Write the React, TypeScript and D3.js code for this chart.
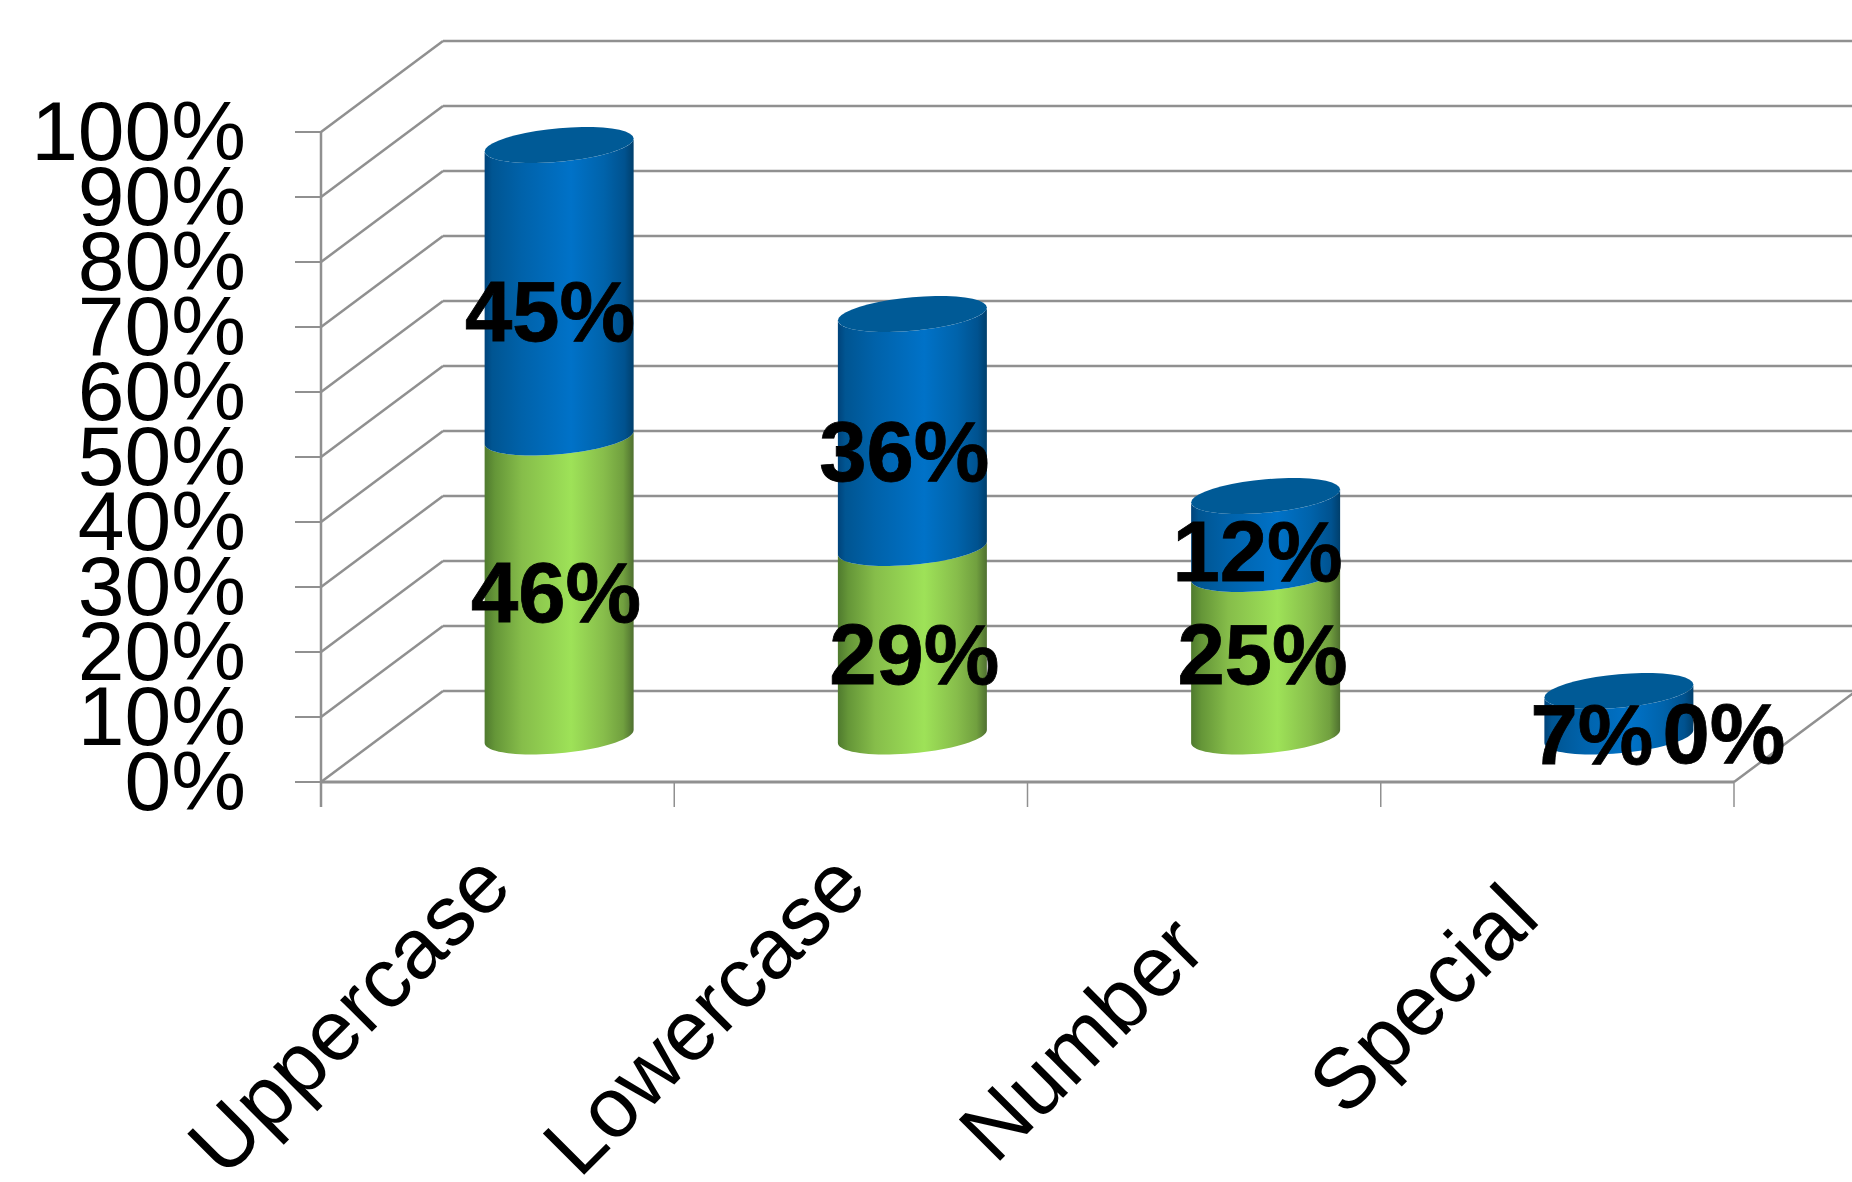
import React from "react";
import * as d3 from "d3";

const categories = ["Uppercase", "Lowercase", "Number", "Special"];
const greenValues = [46, 29, 25, 0];
const blueValues = [45, 36, 12, 7];
const yTicks = [0, 10, 20, 30, 40, 50, 60, 70, 80, 90, 100];

// Label placement (the 3D renderer's offsets from the segment mid-point)
const greenNudge = [[-3, 35], [2, 42], [-3, 29], [105, 26]];
const blueNudge = [[-9, 50], [-8, 50], [-8, 46], [-27, 50]];
const categoryNudge = [[5, 31], [7, 31], [-7, 94], [-27, 63]];

const W = 1852, H = 1182;
const left = 321, right = 1734, base = 782, top = 132;
const depthX = 122, depthY = -91;
const fontFamily = "'Liberation Sans', Arial, sans-serif";
const grid = "#909090";

const x = d3.scaleBand<string>().domain(categories).range([left, right]).paddingInner(0).paddingOuter(0);
const y = d3.scaleLinear().domain([0, 100]).range([base, top]);

const radiusX = 74.5, radiusY = 16.8, skew = 6.5;
const cyl = (i: number) => x(categories[i])! + x.bandwidth() / 2 + depthX / 2 + 0.5;
const cylY = (v: number) => y(v) + depthY / 2;
const ell = (cx: number, cy: number, t: number): [number, number] => [
  cx + radiusX * Math.cos(t),
  cy + radiusY * Math.sin(t) - skew * Math.cos(t),
];
const line = d3.line();
const arcPts = (cx: number, cy: number, a: number, b: number) =>
  d3.range(0, 41).map((k) => ell(cx, cy, a + ((b - a) * k) / 40));

const body = (cx: number, y0: number, y1: number) =>
  line([...arcPts(cx, y0, 0, Math.PI), ...arcPts(cx, y1, Math.PI, 0)]) + "Z";
const cap = (cx: number, cy: number) => line(arcPts(cx, cy, 0, 2 * Math.PI)) + "Z";

const blueStops: [number, string][] = [
  [0, "#00437a"], [0.05, "#005592"], [0.25, "#0062aa"], [0.58, "#0072c8"],
  [0.8, "#0063ab"], [0.94, "#00528f"], [1, "#003f6c"],
];
const greenStops: [number, string][] = [
  [0, "#4f7a2e"], [0.07, "#659638"], [0.25, "#86bd4a"], [0.58, "#9ee258"],
  [0.8, "#87bd4b"], [0.93, "#71a03f"], [1, "#4f7030"],
];

const Grad = ({ id, stops }: { id: string; stops: [number, string][] }) => (
  <linearGradient id={id} x1="0" x2="1" y1="0" y2="0">
    {stops.map(([o, c]) => <stop key={o} offset={o} stopColor={c} />)}
  </linearGradient>
);

export default function App() {
  return (
    <svg width={W} height={H} viewBox={`0 0 ${W} ${H}`}
      style={{ position: "absolute", left: 0, top: 0, background: "#fff" }} fontFamily={fontFamily}>
      <defs>
        <Grad id="blue" stops={blueStops} />
        <Grad id="green" stops={greenStops} />
      </defs>

      {yTicks.map((t) => (
        <g key={t} stroke={grid} strokeWidth={2.5} fill="none">
          <line x1={left + depthX} x2={W + 10} y1={y(t) + depthY} y2={y(t) + depthY} />
          <line x1={left} x2={left + depthX} y1={y(t)} y2={y(t) + depthY} />
          <line x1={left - 26} x2={left} y1={y(t)} y2={y(t)} strokeWidth={2} />
        </g>
      ))}
      <line x1={left} x2={left} y1={top} y2={base + 25} stroke={grid} strokeWidth={2.5} />
      <line x1={left} x2={right} y1={base} y2={base} stroke={grid} strokeWidth={3} />
      <line x1={right} x2={right + depthX} y1={base} y2={base + depthY} stroke={grid} strokeWidth={2.5} />
      {[...categories.map((c) => x(c)!), right].map((px) => (
        <line key={px} x1={px} x2={px} y1={base} y2={base + 25} stroke={grid} strokeWidth={1.5} />
      ))}

      {categories.map((c, i) => {
        const cx = cyl(i), g = greenValues[i], b = blueValues[i];
        return (
          <g key={c}>
            {g > 0 && <path d={body(cx, cylY(0), cylY(g))} fill="url(#green)" />}
            <path d={body(cx, cylY(g), cylY(g + b))} fill="url(#blue)" />
            <path d={cap(cx, cylY(g + b))} fill="#005a96" />
          </g>
        );
      })}

      {yTicks.map((t) => (
        <text key={t} x={246} y={y(t) + 28} textAnchor="end" fontSize={84} fill="#000">{t}%</text>
      ))}

      {categories.map((c, i) => {
        const px = x(c)! + x.bandwidth() / 2 + 12 + categoryNudge[i][0];
        const py = base + 76 + categoryNudge[i][1];
        return (
          <text key={c} transform={`translate(${px},${py}) rotate(-45)`} textAnchor="end" fontSize={85} fill="#000">{c}</text>
        );
      })}

      <g fontWeight="bold" fontSize={85} textAnchor="middle" fill="#000" stroke="#000" strokeWidth={0.8}>
        {categories.map((c, i) => {
          const g = greenValues[i], b = blueValues[i], cx = cyl(i);
          return (
            <g key={c}>
              <text x={cx + greenNudge[i][0]} y={cylY(g / 2) + greenNudge[i][1]}>{g}%</text>
              <text x={cx + blueNudge[i][0]} y={cylY(g + b / 2) + blueNudge[i][1]}>{b}%</text>
            </g>
          );
        })}
      </g>
    </svg>
  );
}
